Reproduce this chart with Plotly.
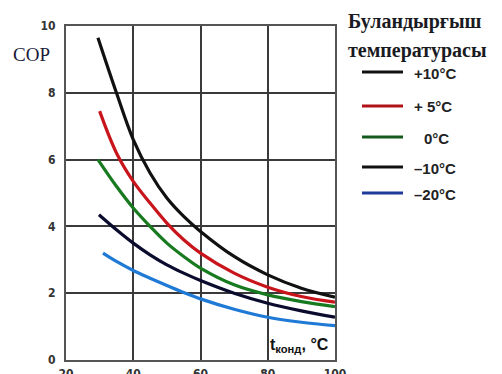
import plotly.graph_objects as go

# Condensation temperature (°C) sample points and COP
x_p10 = [29.5, 35, 40, 45, 50, 55, 60, 70, 80, 90, 100]
cop_p10 = [9.65, 8.0, 6.6, 5.6, 4.85, 4.3, 3.85, 3.1, 2.55, 2.15, 1.88]

x_p5 = [30, 35, 40, 45, 50, 55, 60, 70, 80, 90, 100]
cop_p5 = [7.45, 6.2, 5.35, 4.7, 4.1, 3.6, 3.2, 2.6, 2.18, 1.9, 1.73]

x_0 = [29.5, 35, 40, 45, 50, 55, 60, 70, 80, 90, 100]
cop_0 = [6.0, 5.2, 4.55, 4.0, 3.5, 3.1, 2.75, 2.25, 1.95, 1.75, 1.6]

x_m10 = [29.8, 35, 40, 45, 50, 55, 60, 70, 80, 90, 100]
cop_m10 = [4.35, 3.9, 3.5, 3.15, 2.85, 2.6, 2.38, 2.0, 1.7, 1.47, 1.28]

x_m20 = [31, 35, 40, 45, 50, 55, 60, 70, 80, 90, 100]
cop_m20 = [3.2, 2.95, 2.68, 2.45, 2.23, 2.02, 1.83, 1.52, 1.28, 1.13, 1.03]

series_names = ["+10°C", "+ 5°C", "0°C", "–10°C", "–20°C"]
series_x = [x_p10, x_p5, x_0, x_m10, x_m20]
series_y = [cop_p10, cop_p5, cop_0, cop_m10, cop_m20]
curve_colors = ["#111111", "#c8151b", "#177a1f", "#0b0b2e", "#1f7ad6"]
legend_colors = ["#111111", "#b01218", "#145a1c", "#111111", "#1f3a9a"]

x_ticks = [20, 40, 60, 80, 100]
y_ticks = [0, 2, 4, 6, 8, 10]

fig = go.Figure()
for xs, ys, c, n in zip(series_x, series_y, curve_colors, series_names):
    fig.add_trace(go.Scatter(x=xs, y=ys, mode="lines", name=n,
                             line=dict(color=c, width=3.2, shape="spline", smoothing=1.0),
                             showlegend=False))

tickfont = dict(family="DejaVu Sans Condensed, Liberation Sans Narrow, Arial Narrow, sans-serif",
                size=12, color="#333333")
fig.update_xaxes(range=[20, 100], tickvals=x_ticks, ticktext=["<b>%d</b>" % v for v in x_ticks],
                 showgrid=True, gridcolor="#3a3a3a", gridwidth=2,
                 showline=True, linecolor="#555555", linewidth=2, mirror=True,
                 zeroline=False, tickfont=tickfont, ticks="", ticklabelstandoff=2,
                 automargin=False)
fig.update_yaxes(range=[0, 10], tickvals=y_ticks, ticktext=["<b>%d</b>" % v for v in y_ticks],
                 showgrid=True, gridcolor="#3a3a3a", gridwidth=2,
                 showline=True, linecolor="#555555", linewidth=2, mirror=True,
                 zeroline=False, tickfont=tickfont, ticks="", ticklabelstandoff=6,
                 automargin=False)

# page body adds an 8px offset, so the figure is drawn 8px smaller
fig.update_layout(
    width=494, height=366,
    margin=dict(l=58, r=167, t=18, b=14, autoexpand=False),
    paper_bgcolor="white", plot_bgcolor="white",
)


def px(xp):
    return (xp - 66) / 269


def py(yp):
    return (360 - yp) / 334


ann = []
ann.append(dict(xref="paper", yref="paper", x=px(52), y=py(54), xanchor="right",
                yanchor="middle", text="COP", showarrow=False,
                font=dict(family="Liberation Serif, DejaVu Serif, serif", size=19, color="#1a1a3a")))
ann.append(dict(xref="paper", yref="paper", x=px(331), y=py(345), xanchor="right", yanchor="middle",
                text="<b>t<sub>конд</sub>, °C</b>", showarrow=False,
                font=dict(family="Liberation Sans, Arial, sans-serif", size=16, color="#111111")))

ann.append(dict(xref="paper", yref="paper", x=px(346), y=py(22), xanchor="left", yanchor="middle",
                text="<b>Буландырғыш</b>", showarrow=False,
                font=dict(family="Liberation Serif, DejaVu Serif, serif", size=20, color="#1a1a22")))
ann.append(dict(xref="paper", yref="paper", x=px(346), y=py(50), xanchor="left", yanchor="middle",
                text="<b>температурасы</b>", showarrow=False,
                font=dict(family="Liberation Serif, DejaVu Serif, serif", size=20, color="#1a1a22")))

shapes = []
legend_y = [72, 106, 137, 167, 193]
label_x = [412, 412, 422, 412, 412]
for ly, lx, c, n in zip(legend_y, label_x, legend_colors, series_names):
    shapes.append(dict(type="line", xref="paper", yref="paper", x0=px(362), x1=px(403),
                       y0=py(ly), y1=py(ly), line=dict(color=c, width=3)))
    ann.append(dict(xref="paper", yref="paper", x=px(lx), y=py(ly + 1), xanchor="left", yanchor="middle",
                    text="<b>" + n + "</b>", showarrow=False,
                    font=dict(family="Liberation Sans, Arial, sans-serif", size=15, color="#222222")))

fig.update_layout(annotations=ann, shapes=shapes)
fig.write_html("out.html")
